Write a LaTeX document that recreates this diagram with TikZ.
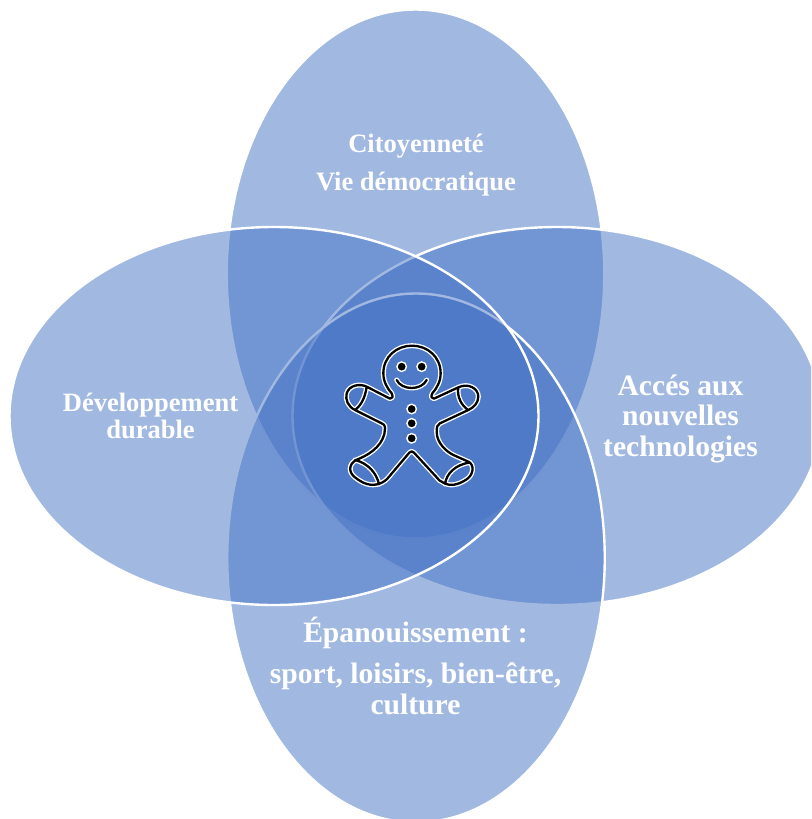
\documentclass[tikz,border=0pt]{standalone}
\usepackage{fontspec}
\setmainfont{Liberation Serif}
\usetikzlibrary{shapes.geometric}
\definecolor{petal}{HTML}{4472C4}
\tikzset{
  petalshape/.style={ellipse,inner sep=0pt,fill=petal,fill opacity=.5,draw=white,draw opacity=1,line width=2.4pt},
  tall/.style={petalshape,minimum width=377.5pt,minimum height=529pt},
  wide/.style={petalshape,minimum width=529pt,minimum height=378pt},
  labsmall/.style={text=white,align=center,inner sep=0pt,font=\fontsize{26.5}{27}\bfseries\selectfont},
  labbig/.style={text=white,align=center,inner sep=0pt,font=\fontsize{29.6}{30.5}\bfseries\selectfont},
  manwhite/.style={draw=white,line width=5pt,line cap=round,line join=round},
  manblack/.style={draw=black,line width=2.3pt,line cap=round,line join=round},
  dotmark/.style={circle,fill=black,draw=white,line width=1.4pt,minimum size=9.5pt,inner sep=0pt}
}
\begin{document}
\begin{tikzpicture}[x=1pt,y=-1pt]
\useasboundingbox (0,0) rectangle (811,819);
\clip (0,0) rectangle (811,819);
\node[tall] (top) at (415.5,274) {};
\node[wide] (right) at (557,416) {};
\node[tall] (bottom) at (416,558) {};
\node[wide] (left) at (274,416) {};
\node[labsmall] (citizen) at (416,165) {Citoyenneté\\[11pt]Vie démocratique};
\node[labsmall] (durable) at (150.5,415.5) {Développement\\durable};
\node[labbig] (tech) at (680.5,418.5) {Accés aux\\nouvelles\\technologies};
\node[labbig] (epa) at (415.5,665.5) {Épanouissement :\\[11pt]sport, loisirs, bien-être,\\culture};
\begin{scope}[shift={(340,340)},x=0.3333pt,y=-0.3333pt]
\def\gbody{(150,176) .. controls (158,176) and (160,170) .. (155,160)
 .. controls (142,145) and (130,125) .. (130,100)
 .. controls (130,50) and (170,17) .. (216,17)
 .. controls (262,17) and (302,50) .. (302,100)
 .. controls (302,125) and (290,145) .. (277,160)
 .. controls (272,170) and (274,176) .. (282,176)
 -- (355,142)
 .. controls (385,128) and (415,145) .. (415,170)
 .. controls (415,190) and (400,203) .. (385,210)
 -- (300,250) .. controls (292,254) and (290,260) .. (290,275)
 .. controls (290,310) and (320,335) .. (340,345)
 -- (385,365) .. controls (405,375) and (400,405) .. (380,418)
 .. controls (355,435) and (330,440) .. (310,428)
 .. controls (300,425) and (295,418) .. (290,412)
 -- (222,338) .. controls (218,333) and (212,333) .. (208,338)
 -- (143,415) .. controls (125,435) and (95,440) .. (70,428)
 .. controls (45,415) and (25,400) .. (32,378)
 .. controls (35,368) and (45,360) .. (60,355)
 .. controls (95,340) and (135,310) .. (135,265)
 .. controls (135,255) and (130,252) .. (125,250)
 -- (45,210) .. controls (25,200) and (15,180) .. (20,160)
 .. controls (28,135) and (60,130) .. (80,140) -- cycle
 (80,140) .. controls (76,170) and (65,195) .. (45,210)
 (355,142) .. controls (350,170) and (365,198) .. (385,210)
 (45,360) .. controls (85,370) and (110,400) .. (117,433)
 (390,367) .. controls (345,375) and (320,400) .. (315,432)
 (170,120) .. controls (185,152) and (245,152) .. (260,120)}
\draw[manwhite] \gbody;
\draw[manblack] \gbody;
\node[dotmark] (eyeL) at (185,80) {};
\node[dotmark] (eyeR) at (245,80) {};
\node[dotmark] (btnA) at (215,207) {};
\node[dotmark] (btnB) at (215,250) {};
\node[dotmark] (btnC) at (215,295) {};
\end{scope}
\end{tikzpicture}
\end{document}
